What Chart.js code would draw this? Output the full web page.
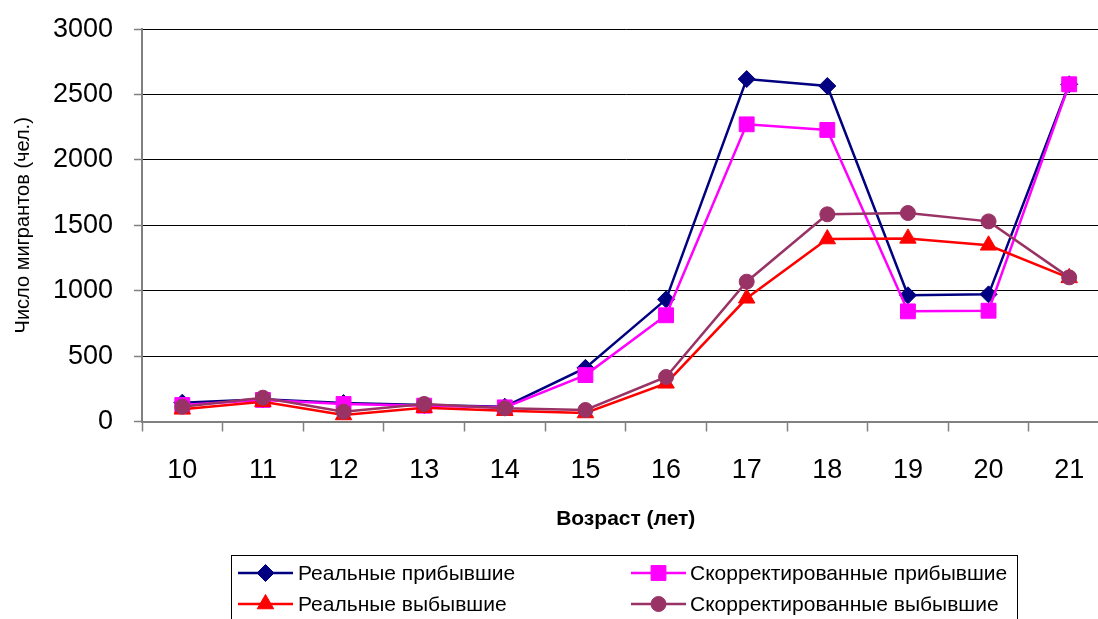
<!DOCTYPE html>
<html lang="ru">
<head>
<meta charset="utf-8">
<title>Число мигрантов по возрасту</title>
<script src="https://cdn.jsdelivr.net/npm/chart.js@4.4.1/dist/chart.umd.min.js"></script>
<style>
  html, body { margin: 0; padding: 0; background: #fff; overflow: hidden; }
  #wrap { width: 1121px; height: 640px; position: relative; }
</style>
</head>
<body>
<div id="wrap"><canvas id="chart"></canvas></div>
<script>
// Возраст (лет)
const ages = ['10', '11', '12', '13', '14', '15', '16', '17', '18', '19', '20', '21'];

// Число мигрантов (чел.)
const realArrived   = [144, 170, 141, 126, 113, 410, 934, 2618, 2565, 965, 972, 2578];
const corrArrived   = [126, 165, 134, 121, 108, 355, 812, 2272, 2229, 842, 847, 2578];
const realDeparted  = [93, 151, 50, 105, 82, 65, 292, 942, 1395, 1400, 1347, 1098];
const corrDeparted  = [113, 182, 75, 134, 101, 88, 340, 1069, 1584, 1594, 1530, 1102];

const yMin = 0, yMax = 3000, yStep = 500;

const FONT = '"Liberation Sans", Arial, sans-serif';

function series(label, data, color, style, radius, order) {
  return {
    label, data, order,
    borderColor: color,
    backgroundColor: color,
    borderWidth: 2.5,
    pointStyle: style,
    pointRadius: radius,
    pointHoverRadius: radius,
    pointBackgroundColor: color,
    pointBorderColor: color,
    pointBorderWidth: 1,
    tension: 0,
    fill: false
  };
}

// Legend drawn as a boxed 2x2 grid below the plot
const gridLegend = {
  id: 'gridLegend',
  afterDraw(chart) {
    const ctx = chart.ctx;
    const ds = chart.data.datasets;
    const boxL = 231.5, boxT = 555.5, boxR = 1017.5;
    ctx.save();
    ctx.strokeStyle = '#000';
    ctx.lineWidth = 1;
    ctx.strokeRect(boxL, boxT, boxR - boxL, 120);
    const cols = [{ l: 238, r: 293, t: 298 }, { l: 631, r: 686, t: 690 }];
    const rows = [573, 604];
    ctx.font = '21px ' + FONT;
    ctx.textBaseline = 'middle';
    ctx.textAlign = 'left';
    ds.forEach((d, i) => {
      const c = cols[i % 2], y = rows[Math.floor(i / 2)];
      ctx.strokeStyle = d.borderColor;
      ctx.lineWidth = 2.5;
      ctx.beginPath();
      ctx.moveTo(c.l, y);
      ctx.lineTo(c.r, y);
      ctx.stroke();
      ctx.fillStyle = d.pointBackgroundColor;
      ctx.strokeStyle = d.pointBorderColor;
      ctx.lineWidth = 1;
      Chart.helpers.drawPoint(ctx, { pointStyle: d.pointStyle, radius: d.pointRadius, borderWidth: 1, rotation: 0 }, (c.l + c.r) / 2, y);
      ctx.fillStyle = '#000';
      ctx.fillText(d.label, c.t, y + 1);
    });
    ctx.restore();
  }
};

new Chart(document.getElementById('chart'), {
  type: 'line',
  data: {
    labels: ages,
    datasets: [
      series('Реальные прибывшие', realArrived, '#000080', 'rectRot', 8.5, 4),
      series('Скорректированные прибывшие', corrArrived, '#FF00FF', 'rect', 10.5, 3),
      series('Реальные выбывшие', realDeparted, '#FF0000', 'triangle', 9.5, 2),
      series('Скорректированные выбывшие', corrDeparted, '#993366', 'circle', 7.5, 1)
    ]
  },
  options: {
    responsive: true,
    maintainAspectRatio: false,
    animation: false,
    devicePixelRatio: 1,
    layout: { padding: { left: 0, top: 29, right: 2, bottom: 98.5 } },
    plugins: {
      legend: { display: false },
      tooltip: { enabled: false },
      title: { display: false }
    },
    scales: {
      x: {
        offset: true,
        grid: {
          offset: true,
          drawOnChartArea: false,
          drawTicks: true,
          tickLength: 10,
          tickColor: '#808080',
          tickWidth: 1.5
        },
        border: { color: '#808080', width: 2 },
        ticks: {
          color: '#000',
          font: { family: FONT, size: 27 },
          padding: 23,
          maxRotation: 0,
          autoSkip: false
        },
        title: {
          display: true,
          text: 'Возраст (лет)',
          color: '#000',
          font: { family: FONT, size: 21, weight: 'bold' },
          padding: { top: 0, bottom: 10 }
        },
        afterFit(scale) { scale.height = 120; }
      },
      y: {
        min: yMin,
        max: yMax,
        ticks: {
          stepSize: yStep,
          color: '#000',
          font: { family: FONT, size: 27, lineHeight: 0.6 },
          padding: 21,
          callback: (v) => String(v)
        },
        grid: {
          color: '#000',
          lineWidth: 1,
          drawTicks: true,
          tickLength: 8,
          tickColor: '#808080',
          tickWidth: 1.5
        },
        border: { color: '#808080', width: 2 },
        title: {
          display: true,
          text: 'Число мигрантов (чел.)',
          color: '#000',
          font: { family: FONT, size: 20 },
          padding: { top: 11, bottom: 0 }
        },
        afterFit(scale) { scale.width = 142; }
      }
    }
  },
  plugins: [gridLegend]
});
</script>
</body>
</html>
